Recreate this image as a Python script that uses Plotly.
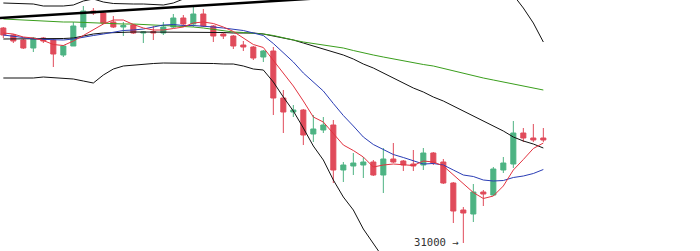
import plotly.graph_objects as go

# candle index
idx = list(range(55))

opens = [35300, 35160, 35060, 34900, 35100, 35060, 34760, 34940, 35320, 35640,
         35600, 35420, 35320, 35360, 35200, 35230, 35200, 35320, 35500, 35380,
         35580, 35340, 35180, 35140, 34960, 34920, 34720, 34840, 33900, 33620,
         33660, 33180, 33260, 33360, 32460, 32540, 32560, 32620, 32360, 32680,
         32640, 32580, 32560, 32800, 32620, 32200, 31660, 31580, 32020, 31960,
         32460, 32580, 33200, 33100, 33100]
highs = [35320, 35180, 35080, 35120, 35120, 35080, 34960, 35420, 35740, 35700,
         35620, 35540, 35420, 35380, 35240, 35340, 35420, 35580, 35560, 35720,
         35680, 35360, 35220, 35160, 35040, 34940, 34860, 34920, 34060, 33760,
         33680, 33560, 33520, 33460, 32620, 32800, 32720, 32660, 32900, 33000,
         32660, 32860, 32900, 32820, 32680, 32220, 31720, 32180, 32060, 32520,
         32720, 33440, 33300, 33380, 33300]
lows = [35100, 35000, 34880, 34820, 35000, 34520, 34720, 34940, 35260, 35560,
        35380, 35300, 35140, 35180, 35000, 35060, 35160, 35300, 35320, 35320,
        35320, 35020, 35080, 34880, 34840, 34660, 34620, 33560, 33200, 33520,
        32960, 33020, 33200, 32200, 32220, 32360, 32300, 32340, 32000, 32600,
        32440, 32440, 32460, 32560, 32180, 31400, 31000, 31420, 31740, 31940,
        32400, 32500, 33020, 33020, 33020]
closes = [35160, 35040, 34900, 35100, 35040, 34780, 34940, 35340, 35640, 35600,
          35400, 35320, 35350, 35200, 35220, 35200, 35320, 35500, 35380, 35580,
          35340, 35140, 35140, 34940, 34920, 34700, 34840, 33900, 33620, 33660,
          33160, 33280, 33360, 32460, 32560, 32600, 32620, 32360, 32680, 32620,
          32560, 32540, 32800, 32600, 32200, 31640, 31600, 32020, 31980, 32480,
          32600, 33200, 33100, 33060, 33060]

ma5 = [35200, 35180, 35120, 35100, 35050, 34970, 34950, 35040, 35150, 35260,
       35380, 35460, 35460, 35370, 35300, 35260, 35260, 35290, 35320, 35400,
       35420, 35390, 35320, 35230, 35100, 34970, 34910, 34660, 34400, 34140,
       33840, 33520, 33420, 33180, 32960, 32850, 32720, 32520, 32560, 32580,
       32570, 32550, 32640, 32620, 32540, 32360, 32170, 32010, 31890, 31940,
       32140, 32460, 32670, 32890, 33000]
ma10 = [35160, 35140, 35110, 35080, 35070, 35060, 35060, 35080, 35120, 35150,
        35180, 35210, 35250, 35260, 35280, 35320, 35360, 35370, 35350, 35350,
        35340, 35320, 35300, 35280, 35250, 35200, 35150, 34990, 34810, 34620,
        34400, 34220, 34040, 33790, 33550, 33340, 33120, 32970, 32870, 32770,
        32710, 32640, 32580, 32590, 32560, 32460, 32360, 32330, 32260, 32240,
        32250, 32310, 32340, 32390, 32470]
ma_long = [35480, 35470, 35460, 35440, 35440, 35430, 35420, 35420, 35410, 35400,
           35400, 35390, 35380, 35380, 35370, 35360, 35360, 35340, 35330, 35320,
           35300, 35270, 35240, 35220, 35210, 35200, 35180, 35150, 35100, 35060,
           35020, 34990, 34960, 34930, 34900, 34850, 34800, 34760, 34720, 34680,
           34640, 34600, 34570, 34540, 34490, 34440, 34400, 34340, 34300, 34260,
           34220, 34180, 34140, 34100, 34060]
bb_mid = [35080, 35080, 35080, 35080, 35080, 35080, 35090, 35100, 35140, 35180,
          35200, 35210, 35220, 35220, 35220, 35220, 35220, 35220, 35220, 35220,
          35220, 35220, 35210, 35200, 35200, 35200, 35180, 35140, 35100, 35060,
          35000, 34940, 34880, 34820, 34760, 34680, 34580, 34500, 34400, 34300,
          34200, 34100, 34020, 33920, 33840, 33740, 33640, 33540, 33440, 33340,
          33240, 33120, 33040, 32980, 32900]
bb_upper = [35800, 35790, 35780, 35780, 35740, 35740, 35740, 35760, 35840, 35880,
            35820, 35790, 35780, 35780, 35780, 35770, 35760, 35800, 35880, 35900,
            35920, 35920, 35920, 35940, 35940, 35960, 35980, 36060, 36280, 36480,
            36700, 36940, 37100, 37380, 37600, 37700, 37880, 38020, 38100, 38060,
            37980, 37880, 37800, 37660, 37540, 37380, 37200, 37000, 36780, 36540,
            36280, 35960, 35700, 35400, 35020]
bb_lower = [34300, 34300, 34300, 34300, 34320, 34310, 34300, 34280, 34240, 34200,
            34360, 34480, 34540, 34560, 34580, 34590, 34600, 34600, 34600, 34600,
            34600, 34590, 34580, 34580, 34540, 34480, 34460, 34220, 33920, 33640,
            33300, 32940, 32660, 32260, 31920, 31660, 31280, 30980, 30700, 30540,
            30420, 30320, 30240, 30180, 30140, 30100, 30080, 30080, 30100, 30140,
            30200, 30280, 30380, 30560, 30780]

trend_x = [-1, 40]
trend_y = [35490, 36000]

low_label = "31000 →"
low_index = 46
low_value = 31000

UP = "#4db383"
DOWN = "#e04b5b"

fig = go.Figure()
fig.add_trace(go.Candlestick(
    x=idx, open=opens, high=highs, low=lows, close=closes,
    increasing=dict(line=dict(color=UP, width=1), fillcolor=UP),
    decreasing=dict(line=dict(color=DOWN, width=1), fillcolor=DOWN),
    whiskerwidth=0, hoverinfo="skip",
))

def line(y, color, width=1.0):
    fig.add_trace(go.Scatter(x=idx, y=y, mode="lines",
                             line=dict(color=color, width=width),
                             hoverinfo="skip"))

line(bb_upper, "#111111")
line(bb_lower, "#111111")
line(bb_mid, "#111111")
line(ma_long, "#3a9e1c")
line(ma10, "#2a3db5")
line(ma5, "#e23340")

fig.add_trace(go.Scatter(x=trend_x, y=trend_y, mode="lines",
                         line=dict(color="#000000", width=2.5),
                         hoverinfo="skip"))

fig.add_annotation(x=low_index, y=low_value, text=low_label, showarrow=False,
                   xanchor="right", yanchor="middle", xshift=-2, yshift=1,
                   font=dict(family="DejaVu Sans Mono", size=10.6, color="#333333"))

fig.update_layout(
    width=700, height=251,
    margin=dict(l=0, r=0, t=0, b=0),
    paper_bgcolor="white", plot_bgcolor="white",
    showlegend=False,
    boxgap=0.28,
    xaxis=dict(range=[-0.333, 69.667], visible=False, rangeslider=dict(visible=False),
               fixedrange=True),
    yaxis=dict(range=[30840, 35860], visible=False, fixedrange=True),
)

fig.write_html("out.html")
